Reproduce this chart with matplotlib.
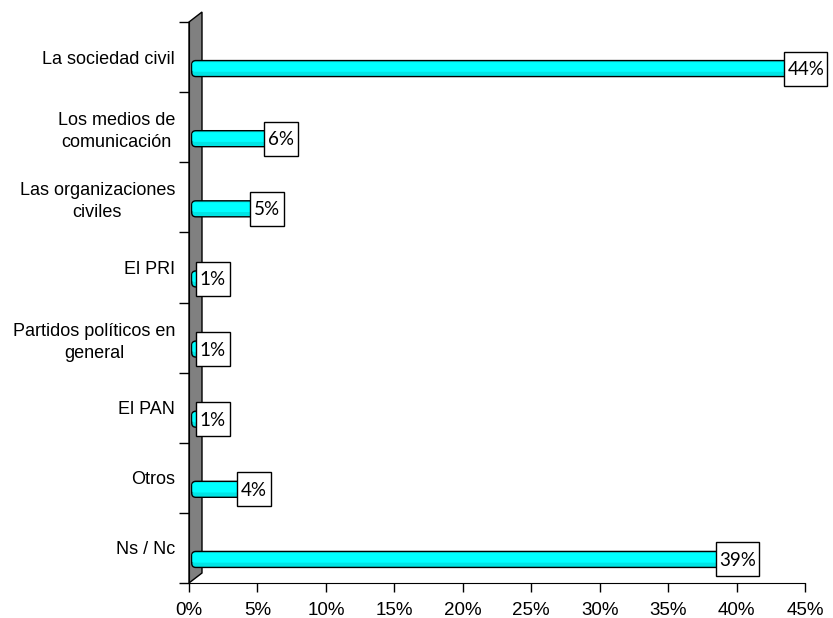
import matplotlib
matplotlib.use("Agg")
import numpy as np
import matplotlib.pyplot as plt
import matplotlib.transforms as mtransforms
from matplotlib.patches import Polygon, FancyBboxPatch, Rectangle

categories = ["La sociedad civil", "Los medios de\ncomunicación",
              "Las organizaciones\nciviles", "El PRI",
              "Partidos políticos en\ngeneral", "El PAN", "Otros", "Ns / Nc"]
values = [44, 6, 5, 1, 1, 1, 4, 39]
xticks = [0, 5, 10, 15, 20, 25, 30, 35, 40, 45]
xlabels = [f"{t}%" for t in xticks]

plt.rcParams["font.family"] = ["Liberation Sans", "DejaVu Sans"]

W, H = 833, 618
fig = plt.figure(figsize=(W / 100, H / 100), dpi=100)
ax = fig.add_axes([189 / W, 35 / H, 616 / W, 561 / H])
ax.set_xlim(0, 45)
ax.set_ylim(-0.5, 7.5)

ypos = [len(categories) - 1 - i for i in range(len(categories))]

# 3D wall behind the bars
dx, dy = 13 / 616, 10 / 561
wall = Polygon([(0, 0), (0, 1), (dx, 1 + dy), (dx, dy)], closed=True,
               transform=ax.transAxes, facecolor="#808080", edgecolor="black",
               lw=1, clip_on=False, zorder=1)
ax.add_patch(wall)

# bars, shifted down like the depth of the 3D chart
shift = mtransforms.ScaledTranslation(0, -11.5 / 100, fig.dpi_scale_trans)
bar_h = 16 / 70.1
bars = ax.barh(ypos, [v - 0.2 for v in values], left=0.2, height=bar_h)
for rect in bars:
    rect.set_visible(False)
    fb = FancyBboxPatch((rect.get_x(), rect.get_y()), rect.get_width(), rect.get_height(),
                        boxstyle="round,pad=0,rounding_size=0.3",
                        mutation_aspect=13.69 / 70.1,
                        facecolor="#00E4E4", edgecolor="black", lw=1,
                        transform=ax.transData + shift, zorder=3)
    ax.add_patch(fb)
    hl = FancyBboxPatch((rect.get_x() + 0.05, rect.get_y() + rect.get_height() * 0.3),
                        rect.get_width() - 0.05, rect.get_height() * 0.6,
                        boxstyle="round,pad=0,rounding_size=0.2",
                        mutation_aspect=13.69 / 70.1 * 0.5,
                        facecolor="#00FFFF", edgecolor="none",
                        transform=ax.transData + shift, zorder=3.5)
    ax.add_patch(hl)

# value labels in white boxes (sizes in pixels)
for v, y in zip(values, ypos):
    lab = f"{v}%"
    bw, bh = 9 * len(lab) + 16, 34
    anchor = mtransforms.ScaledTranslation(v, y, ax.transData)
    box = Rectangle((-7, -11.5 - bh / 2), bw, bh, transform=mtransforms.IdentityTransform() + anchor,
                    facecolor="white", edgecolor="black", lw=1, zorder=5, clip_on=False)
    ax.add_patch(box)
    ax.annotate(lab, xy=(v, y), xytext=(-7 + bw / 2, -12.5), textcoords="offset pixels",
                ha="center", va="center", fontsize=13.5, family=["Lato", "DejaVu Sans"],
                zorder=6)

ax.spines["top"].set_visible(False)
ax.spines["right"].set_visible(False)
ax.spines["left"].set_zorder(2)

ax.set_yticks(np.arange(-0.5, len(categories), 1))
ax.set_yticklabels([])
ax.set_yticks(ypos, minor=True)
ax.set_yticklabels(categories, minor=True, fontsize=13, ha="right", multialignment="center")
for lbl in ax.get_yticklabels(minor=True):
    lbl.set_linespacing(1.38)
ax.tick_params(axis="y", which="major", length=7, width=1, direction="out")
ax.tick_params(axis="y", which="minor", length=0, pad=10)

ax.set_xticks(xticks)
ax.set_xticklabels(xlabels, fontsize=13.5)
ax.tick_params(axis="x", length=6.5, width=1, direction="out", pad=7)

fig.savefig("out.png", dpi=100)
